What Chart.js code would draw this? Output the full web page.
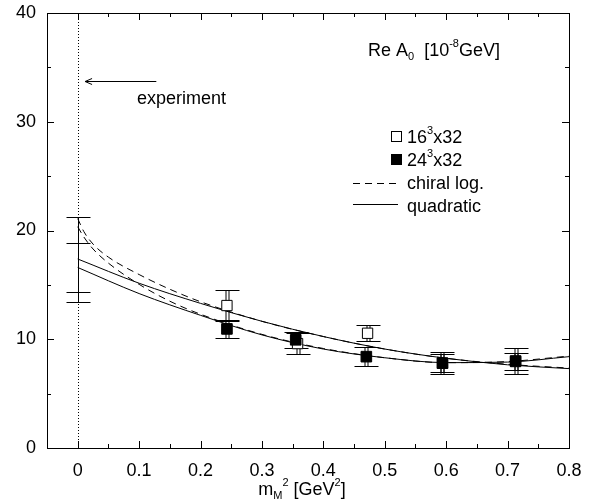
<!DOCTYPE html>
<html>
<head>
<meta charset="utf-8">
<script src="https://cdn.jsdelivr.net/npm/chart.js@4.4.0/dist/chart.umd.min.js"></script>
<style>
  html, body { margin: 0; padding: 0; background: #fff; }
  #wrap { width: 592px; height: 504px; }
</style>
</head>
<body>
<div id="wrap"><canvas id="myChart" width="592" height="504"></canvas></div>
<script>
// axis ticks
const xTicks = [0, 0.1, 0.2, 0.3, 0.4, 0.5, 0.6, 0.7, 0.8];
const yTicks = [0, 10, 20, 30, 40];

// lattice points (16^3x32 open, 24^3x32 filled)
const mass16 = [0.243, 0.358, 0.472, 0.594, 0.713];
const val16 = [13.1, 9.6, 10.55, 7.8, 7.95];
const err16 = [1.45, 1.0, 0.75, 0.8, 0.8];

const mass24 = [0.243, 0.355, 0.47, 0.594, 0.713];
const val24 = [10.95, 9.95, 8.4, 7.8, 8.0];
const err24 = [0.8, 0.75, 0.9, 1.0, 1.15];

// extrapolated values at m^2 = 0
const mass0 = [0, 0];
const val0 = [17.36, 16.62];
const err0 = [3.9, 2.25];

// fit curves
const quadX = [0, 0.1, 0.2, 0.3, 0.4, 0.5, 0.6, 0.7, 0.8];
const quad16 = [17.38, 15.15, 13.3, 11.65, 10.25, 9.1, 8.25, 7.65, 7.3];
const quad24 = [16.6, 14.2, 12.2, 10.4, 9.1, 8.3, 7.85, 7.9, 8.4];

const chiralX = [0, 0.01, 0.025, 0.05, 0.1, 0.15, 0.2, 0.3, 0.4, 0.5, 0.6, 0.7, 0.8];
const chiral16 = [21.1, 19.9, 18.75, 17.55, 15.95, 14.6, 13.45, 11.65, 10.25, 9.1, 8.25, 7.7, 7.35];
const chiral24 = [20.35, 19.4, 18.3, 17.0, 15.05, 13.5, 12.3, 10.45, 9.15, 8.3, 7.85, 7.95, 8.45];

// experiment arrow
const arrowY = 33.75;
const arrowFrom = 0.128;
const arrowTo = 0.012;

const FONT = '"Liberation Sans", Arial, Helvetica, sans-serif';

const pts = (xs, ys) => xs.map((x, i) => ({ x: x, y: ys[i] }));

function curve(xs, ys, dash) {
    return {
        type: 'line',
        data: pts(xs, ys),
        borderColor: '#000',
        borderWidth: 1,
        borderDash: dash,
        pointRadius: 0,
        fill: false,
        order: 2,
        cubicInterpolationMode: 'monotone'
    };
}

// draw text with sub/superscripts
function rich(ctx, parts, x, y) {
    let cx = x;
    parts.forEach(p => {
        const small = p.sub || p.sup;
        ctx.font = (small ? 11 : 18) + 'px ' + FONT;
        let dy = 0;
        if (p.sup) dy = -9;
        if (p.sub) dy = 4;
        ctx.fillText(p.t, cx, y + dy);
        cx += ctx.measureText(p.t).width;
    });
    return cx - x;
}
function richWidth(ctx, parts) {
    let w = 0;
    parts.forEach(p => {
        ctx.font = ((p.sub || p.sup) ? 11 : 18) + 'px ' + FONT;
        w += ctx.measureText(p.t).width;
    });
    return w;
}

const errorBars = {
    id: 'errorBars',
    beforeDatasetsDraw(chart) {
        const { ctx, scales: { x, y } } = chart;
        ctx.save();
        ctx.strokeStyle = '#000';
        ctx.lineWidth = 1;
        // dotted line at m^2 = 0
        ctx.setLineDash([1, 2]);
        ctx.beginPath();
        ctx.moveTo(Math.round(x.getPixelForValue(0)) + 0.5, chart.chartArea.top);
        ctx.lineTo(Math.round(x.getPixelForValue(0)) + 0.5, chart.chartArea.bottom);
        ctx.stroke();
        ctx.setLineDash([]);

        const bar = (mx, v, e, dbl) => {
            const px = Math.round(x.getPixelForValue(mx)) + 0.5;
            const top = Math.round(y.getPixelForValue(v + e)) + 0.5;
            const bot = Math.round(y.getPixelForValue(v - e)) + 0.5;
            ctx.beginPath();
            if (dbl) {
                ctx.moveTo(px - 1.5, top); ctx.lineTo(px - 1.5, bot);
                ctx.moveTo(px + 1.5, top); ctx.lineTo(px + 1.5, bot);
            } else {
                ctx.moveTo(px, top); ctx.lineTo(px, bot);
            }
            ctx.moveTo(px - 12, top); ctx.lineTo(px + 12, top);
            ctx.moveTo(px - 12, bot); ctx.lineTo(px + 12, bot);
            ctx.stroke();
        };
        mass0.forEach((m, i) => bar(m, val0[i], err0[i], false));
        mass16.forEach((m, i) => bar(m, val16[i], err16[i], true));
        mass24.forEach((m, i) => bar(m, val24[i], err24[i], true));
        ctx.restore();
    }
};

const decorations = {
    id: 'decorations',
    afterDraw(chart) {
        const { ctx, chartArea: a, scales: { x, y } } = chart;
        ctx.save();
        ctx.strokeStyle = '#000';
        ctx.fillStyle = '#000';
        ctx.lineWidth = 1;
        // frame
        ctx.strokeRect(Math.round(a.left) + 0.5, Math.round(a.top) + 0.5,
            Math.round(a.right - a.left), Math.round(a.bottom - a.top));
        // inward ticks
        ctx.beginPath();
        for (let k = 1; k < 17; k++) {
            const v = -0.05 + k * 0.05;
            const len = (k % 2 === 1) ? 7 : 4;
            const px = Math.round(x.getPixelForValue(v)) + 0.5;
            ctx.moveTo(px, a.bottom); ctx.lineTo(px, a.bottom - len);
            ctx.moveTo(px, a.top); ctx.lineTo(px, a.top + len);
        }
        for (let v = 5; v < 40; v += 5) {
            const len = (v % 10 === 0) ? 7 : 4;
            const py = Math.round(y.getPixelForValue(v)) + 0.5;
            ctx.moveTo(a.left, py); ctx.lineTo(a.left + len, py);
            ctx.moveTo(a.right, py); ctx.lineTo(a.right - len, py);
        }
        ctx.stroke();

        // experiment arrow
        const ay = Math.round(y.getPixelForValue(arrowY)) + 0.5;
        const ax0 = x.getPixelForValue(arrowFrom);
        const ax1 = x.getPixelForValue(arrowTo);
        ctx.beginPath();
        ctx.moveTo(ax0, ay); ctx.lineTo(ax1, ay);
        ctx.moveTo(ax1 + 7, ay - 3); ctx.lineTo(ax1, ay); ctx.lineTo(ax1 + 7, ay + 3);
        ctx.stroke();

        ctx.textBaseline = 'alphabetic';
        ctx.textAlign = 'left';
        rich(ctx, [{ t: 'experiment' }], 137, 104);

        // title
        rich(ctx, [{ t: 'Re A' }, { t: '0', sub: true }, { t: '  [10' }, { t: '-8', sup: true }, { t: 'GeV]' }], 368, 56);

        // legend
        ctx.strokeRect(391.5, 131.5, 10, 10);
        ctx.fillRect(391, 154, 11, 11);
        ctx.beginPath();
        ctx.setLineDash([7, 5]);
        ctx.moveTo(353, 183.5); ctx.lineTo(398, 183.5);
        ctx.stroke();
        ctx.setLineDash([]);
        ctx.beginPath();
        ctx.moveTo(353, 204.5); ctx.lineTo(398, 204.5);
        ctx.stroke();
        rich(ctx, [{ t: '16' }, { t: '3', sup: true }, { t: 'x32' }], 407, 143);
        rich(ctx, [{ t: '24' }, { t: '3', sup: true }, { t: 'x32' }], 407, 166);
        rich(ctx, [{ t: 'chiral log.' }], 407, 189);
        rich(ctx, [{ t: 'quadratic' }], 407, 212);

        // x axis title
        const xt = [{ t: 'm' }, { t: 'M', sub: true }, { t: '2', sup: true }, { t: ' [GeV' }, { t: '2', sup: true }, { t: ']' }];
        const w = richWidth(ctx, xt);
        rich(ctx, xt, 302 - w / 2, 495);
        ctx.restore();
    }
};

const ctx = document.getElementById('myChart').getContext('2d');
const myChart = new Chart(ctx, {
    type: 'scatter',
    data: {
        datasets: [
            curve(chiralX, chiral16, [7, 5]),
            curve(chiralX, chiral24, [7, 5]),
            curve(quadX, quad16, []),
            curve(quadX, quad24, []),
            {
                data: pts(mass16, val16),
                pointStyle: 'rect',
                pointRadius: 7.3,
                pointHoverRadius: 7.3,
                backgroundColor: '#fff',
                borderColor: '#000',
                borderWidth: 1,
                order: 1
            },
            {
                data: pts(mass24, val24),
                pointStyle: 'rect',
                pointRadius: 7.5,
                pointHoverRadius: 7.5,
                backgroundColor: '#000',
                borderColor: '#000',
                borderWidth: 1,
                order: 0
            }
        ]
    },
    options: {
        responsive: false,
        animation: false,
        layout: {
            padding: { left: 0, top: 13, right: 23, bottom: 0 }
        },
        plugins: {
            legend: { display: false },
            tooltip: { enabled: false }
        },
        scales: {
            x: {
                type: 'linear',
                min: -0.05,
                max: 0.8,
                grid: { display: false, drawTicks: false },
                border: { display: false },
                afterBuildTicks: (scale) => { scale.ticks = xTicks.map(v => ({ value: v })); },
                afterFit: (scale) => {
                    scale.height = 56;
                    scale.paddingLeft = 0;
                    scale.paddingRight = 0;
                },
                ticks: {
                    color: '#000',
                    padding: 12,
                    maxRotation: 0,
                    font: { family: FONT, size: 18 },
                    callback: (v) => String(v)
                }
            },
            y: {
                type: 'linear',
                min: 0,
                max: 40,
                grid: { display: false, drawTicks: false },
                border: { display: false },
                afterBuildTicks: (scale) => { scale.ticks = yTicks.map(v => ({ value: v })); },
                afterFit: (scale) => {
                    scale.width = 47;
                    scale.paddingTop = 0;
                    scale.paddingBottom = 0;
                },
                ticks: {
                    color: '#000',
                    padding: 11,
                    font: { family: FONT, size: 18 },
                    callback: (v) => String(v)
                }
            }
        }
    },
    plugins: [errorBars, decorations]
});
</script>
</body>
</html>
